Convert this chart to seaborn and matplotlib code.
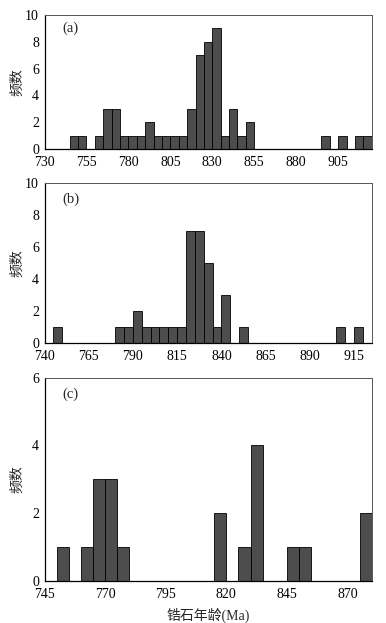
import numpy as np
import pandas as pd
import matplotlib
matplotlib.use("Agg")
import matplotlib.pyplot as plt
import seaborn as sns

# Panel (a)
a_bins = [745, 750, 760, 765, 770, 775, 780, 785, 790, 795, 800, 805, 810, 815,
          820, 825, 830, 835, 840, 845, 850, 895, 905, 915, 920]
a_counts = [1, 1, 1, 3, 3, 1, 1, 1, 2, 1, 1, 1, 1, 3,
            7, 8, 9, 1, 3, 1, 2, 1, 1, 1, 1]
a_ticks = [730, 755, 780, 805, 830, 855, 880, 905]

# Panel (b)
b_bins = [745, 780, 785, 790, 795, 800, 805, 810, 815, 820, 825, 830, 835, 840,
          850, 905, 915]
b_counts = [1, 1, 1, 2, 1, 1, 1, 1, 1, 7, 7, 5, 1, 3, 1, 1, 1]
b_ticks = [740, 765, 790, 815, 840, 865, 890, 915]

# Panel (c)
c_bins = [750, 760, 765, 770, 775, 815, 825, 830, 845, 850, 875]
c_counts = [1, 1, 3, 3, 1, 2, 1, 4, 1, 1, 2]
c_ticks = [745, 770, 795, 820, 845, 870]

ylabel = "频数"
xlabel = "锆石年龄(Ma)"

sns.set_style("white")
plt.rcParams['font.family'] = ['Liberation Serif', 'Noto Sans CJK SC']

fig = plt.figure(figsize=(3.86, 6.23), dpi=100)
L, W = 0.1153, 0.8477
specs = [
    (a_bins, a_counts, a_ticks, (730, 925), (0, 10), [0, 2, 4, 6, 8, 10], "(a)", 0.7608, 0.2151, 0.90),
    (b_bins, b_counts, b_ticks, (740, 925), (0, 10), [0, 2, 4, 6, 8, 10], "(b)", 0.4490, 0.2577, 0.90),
    (c_bins, c_counts, c_ticks, (745, 880), (0, 6), [0, 2, 4, 6], "(c)", 0.0674, 0.3263, 0.92),
]
for i, (bins, counts, ticks, xl, yl, yt, lab, bot, h, ly) in enumerate(specs):
    ax = fig.add_axes([L, bot, W, h])
    df = pd.DataFrame({"age": np.array(bins) + 2.5, "n": counts})
    sns.histplot(data=df, x="age", weights="n", binwidth=5,
                 binrange=(min(bins), max(bins) + 5),
                 color="#4d4d4d", edgecolor="black", linewidth=0.6,
                 alpha=1.0, ax=ax)
    ax.set_xlim(*xl)
    ax.set_ylim(*yl)
    ax.set_xticks(ticks)
    ax.set_yticks(yt)
    ax.tick_params(direction="in", length=3, width=0.8, labelsize=10,
                   colors="black")
    ax.tick_params(axis="x", pad=5)
    ax.tick_params(axis="y", pad=4)
    ax.set_xlabel("")
    ax.set_ylabel(ylabel, fontsize=10, family=['Noto Sans CJK SC'])
    ax.yaxis.set_label_coords(-0.062, 0.5)
    for s in ["left", "bottom"]:
        ax.spines[s].set_color("black")
        ax.spines[s].set_linewidth(0.9)
    for s in ["top", "right"]:
        ax.spines[s].set_color("#555555")
        ax.spines[s].set_linewidth(0.7)
    ax.text(0.054, ly, lab, transform=ax.transAxes, fontsize=10.5,
            va="center", ha="left")
    if i == 2:
        ax.set_xlabel(xlabel, fontsize=10, labelpad=5,
                      family=['Liberation Serif', 'Noto Sans CJK SC'])

fig.savefig("out.png", dpi=100)
